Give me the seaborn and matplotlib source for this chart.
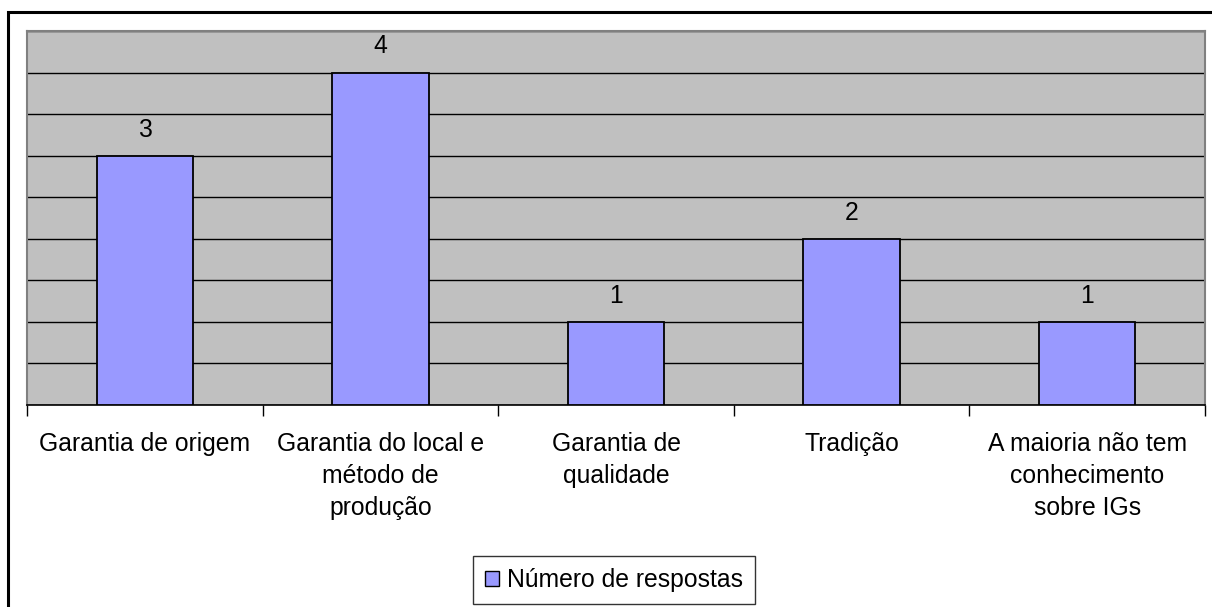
import matplotlib
matplotlib.use("Agg")
import matplotlib.pyplot as plt
import matplotlib.patches as mpatches
import pandas as pd
import seaborn as sns

categorias = ["Garantia de origem", "Garantia do local e\nmétodo de\nprodução",
              "Garantia de\nqualidade", "Tradição",
              "A maioria não tem\nconhecimento\nsobre IGs"]
respostas = [3, 4, 1, 2, 1]
serie = "Número de respostas"

df = pd.DataFrame({"categoria": categorias, "respostas": respostas})

sns.set_style("white")
plt.rcParams["font.family"] = ["Liberation Sans", "DejaVu Sans"]
plt.rcParams["text.color"] = "black"

W, H = 1212, 607
FS = 17.8
fig = plt.figure(figsize=(W / 100, H / 100), dpi=100)
ax = fig.add_axes([27 / W, 1 - 405 / H, (1205 - 27) / W, (405 - 31) / H])

sns.barplot(data=df, x="categoria", y="respostas", ax=ax, color="#9999FF",
            saturation=1, width=0.41, edgecolor="black", linewidth=1.3, zorder=3)

ax.set_facecolor("#C0C0C0")
ax.set_ylim(0, 4.5)
ax.set_xlim(-0.5, len(categorias) - 0.5)
ax.set_yticks([i * 0.5 for i in range(10)])
ax.yaxis.grid(True, color="black", linewidth=1.0, zorder=1)
ax.set_axisbelow(True)
ax.tick_params(axis="y", left=False, labelleft=False)

# ticks between categories
ax.set_xticks([i - 0.5 for i in range(len(categorias) + 1)])
ax.set_xticklabels([])
ax.tick_params(axis="x", bottom=True, direction="out", length=8, width=1, color="black")
for i, c in enumerate(categorias):
    ax.text(i, -0.33, c, ha="center", va="top", fontsize=FS,
            linespacing=1.4, color="black")

for i, v in enumerate(respostas):
    ax.text(i, v + 0.17, str(v), ha="center", va="bottom", fontsize=FS, color="black")

for side in ["top", "right", "left"]:
    ax.spines[side].set_color("#808080")
    ax.spines[side].set_linewidth(1.5)
ax.spines["bottom"].set_color("black")
ax.spines["bottom"].set_linewidth(1.2)
ax.set_xlabel("")
ax.set_ylabel("")

handle = mpatches.Patch(facecolor="#9999FF", edgecolor="black", label=serie)
leg = fig.legend(handles=[handle], loc="center", bbox_to_anchor=(614 / W, 1 - 580 / H),
                 frameon=True, fancybox=False, fontsize=FS, handlelength=0.55,
                 handleheight=0.55, handletextpad=0.3, borderpad=0.5,
                 borderaxespad=0)
leg.get_frame().set_edgecolor("black")
leg.get_frame().set_linewidth(1.0)
for t in leg.get_texts():
    t.set_color("black")

# outer chart frame
fig.add_artist(mpatches.Rectangle((7.5 / W, -0.1), 1.2, 1.1 - 11.5 / H,
                                  transform=fig.transFigure, fill=False,
                                  edgecolor="black", linewidth=2.2))

fig.savefig("out.png", dpi=100)
